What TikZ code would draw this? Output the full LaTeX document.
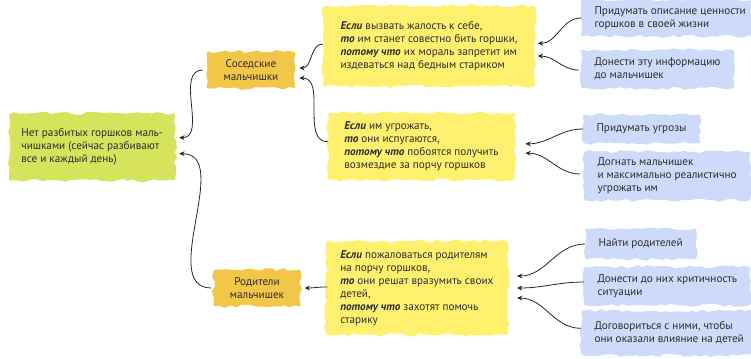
\documentclass[tikz,border=0pt]{standalone}
\usepackage{fontspec}
\setmainfont{PT Sans}
\usetikzlibrary{arrows.meta,decorations.pathmorphing}

\definecolor{goalgreen}{RGB}{214,228,92}
\definecolor{whoorange}{RGB}{242,199,72}
\definecolor{ifyellow}{RGB}{255,241,110}
\definecolor{stepblue}{RGB}{205,218,250}
\definecolor{textgray}{RGB}{45,45,45}

% bold italic key words
\newcommand\kw[1]{\textbf{\textit{#1}}}

\tikzset{
	blob/.style={decorate, decoration={random steps, segment length=4pt, amplitude=1.2pt},
		line width=2.4pt, line join=round, inner ysep=2pt, text=textgray,
		font=\fontsize{8.4}{9.75}\selectfont},
	goal/.style={blob, fill=goalgreen, draw=goalgreen, align=left, inner xsep=8pt},
	who/.style={blob, fill=whoorange, draw=whoorange, align=center, minimum height=25pt},
	ifthen/.style={blob, fill=ifyellow, draw=ifyellow, align=left},
	todo/.style={blob, fill=stepblue, draw=stepblue, align=left, inner xsep=9pt},
	arr/.style={-{Stealth[length=4pt,width=3.6pt]}, semithick, black!85}
}

\begin{document}
\begin{tikzpicture}[x=0.75pt, y=-0.75pt]
	\pgfmathsetseed{7}
	\useasboundingbox (0,0) rectangle (751,358);

	% Goal
	\node[goal, anchor=west, minimum height=48pt] (root) at (9,147)
		{Нет разбитых горшков маль-\\чишками (сейчас разбивают\\все и каждый день)};

	% Who breaks the pots
	\node[who, minimum width=64pt] (sosedi) at (251,70)
		{Соседские\\мальчишки};
	\node[who, minimum width=63pt] (roditeli) at (257,288)
		{Родители\\мальчишек};

	% If - then - because
	\node[ifthen, anchor=west, inner xsep=12pt, minimum height=58pt] (esli1) at (323,46)
		{\kw{Если} вызвать жалость к себе,\\
		 \kw{то} им станет совестно бить горшки,\\
		 \kw{потому что} их мораль запретит им\\
		 издеваться над бедным стариком};
	\node[ifthen, anchor=west, inner xsep=11pt, minimum height=48pt] (esli2) at (328,146.5)
		{\kw{Если} им угрожать,\\
		 \kw{то} они испугаются,\\
		 \kw{потому что} побоятся получить\\
		 возмездие за порчу горшков};
	\node[ifthen, anchor=west, inner xsep=9.5pt, minimum height=68pt] (esli3) at (326,288)
		{\kw{Если} пожаловаться родителям\\
		 на порчу горшков,\\
		 \kw{то} они решат вразумить своих\\
		 детей,\\
		 \kw{потому что} захотят помочь\\
		 старику};

	% Steps
	\node[todo, anchor=west, minimum height=25pt] (b1) at (581,18)
		{Придумать описание ценности\\горшков в своей жизни};
	\node[todo, anchor=west, minimum height=26.5pt] (b2) at (581,69)
		{Донести эту информацию\\до мальчишек};
	\node[todo, anchor=west, minimum height=19pt] (b3) at (583,129)
		{Придумать угрозы};
	\node[todo, anchor=west, minimum height=34pt] (b4) at (584,176)
		{Догнать мальчишек\\и максимально реалистично\\угрожать им};
	\node[todo, anchor=west, minimum height=20.5pt] (b5) at (585,244)
		{Найти родителей};
	\node[todo, anchor=west, minimum height=26.5pt] (b6) at (584,286)
		{Донести до них критичность\\ситуации};
	\node[todo, anchor=west, minimum height=31pt] (b7) at (581,333)
		{Договориться с ними, чтобы\\они оказали влияние на детей};

	% Connectors to the goal
	\draw[arr] ([xshift=-3pt]sosedi.west) to[out=180, in=0] ([xshift=3pt, yshift=7pt]root.east);
	\draw[arr] ([xshift=-1.5pt]roditeli.west) to[out=180, in=0] ([xshift=3pt, yshift=-5pt]root.east);

	% Connectors to who
	\draw[arr] ([yshift=1.5pt]esli1.west) to[out=180, in=0] ([xshift=3pt, yshift=1.5pt]sosedi.east);
	\draw[arr] ([yshift=3.5pt]esli2.west) to[out=180, in=0] ([xshift=3pt, yshift=-6pt]sosedi.east);
	\draw[arr] ([xshift=1pt, yshift=0.8pt]esli3.west) to[out=180, in=0] ([xshift=3pt]roditeli.east);

	% Connectors to the ifs
	\draw[arr] (b1.west) to[out=180, in=0] ([xshift=2pt, yshift=2pt]esli1.east);
	\draw[arr] ([xshift=-1.5pt, yshift=-0.8pt]b2.west) to[out=180, in=0] ([xshift=2pt, yshift=-7.5pt]esli1.east);
	\draw[arr] (b3.west) to[out=180, in=0] ([xshift=8pt, yshift=2pt]esli2.east);
	\draw[arr] ([xshift=-3pt, yshift=1.5pt]b4.west) to[out=180, in=0] ([xshift=8pt, yshift=-5pt]esli2.east);
	\draw[arr] (b5.west) to[out=180, in=0] ([xshift=7pt, yshift=9pt]esli3.east);
	\draw[arr] ([yshift=3pt]b6.west) to[out=180, in=0] ([xshift=7pt]esli3.east);
	\draw[arr] ([yshift=3.5pt]b7.west) to[out=180, in=0] ([xshift=7pt, yshift=-7.5pt]esli3.east);
\end{tikzpicture}
\end{document}
